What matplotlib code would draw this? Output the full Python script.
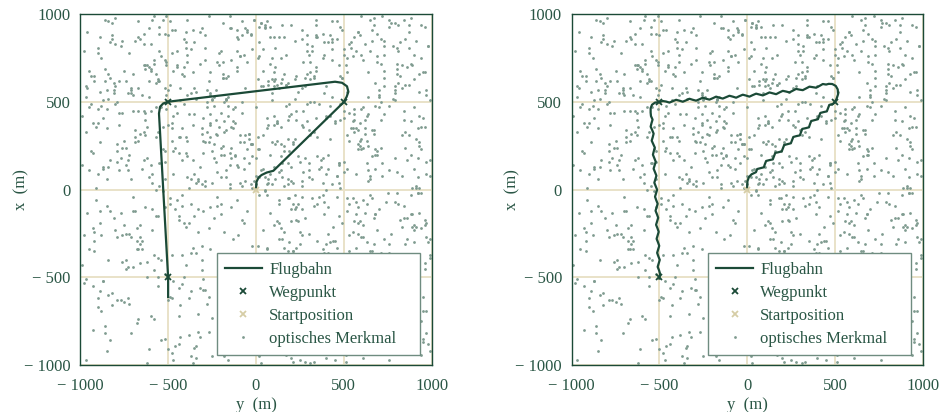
import numpy as np
import matplotlib
matplotlib.use("Agg")
import matplotlib.pyplot as plt
from matplotlib.lines import Line2D

plt.rcParams['font.family'] = ['Liberation Serif', 'DejaVu Serif']

# colours
c_dark = '#1b4a37'
c_text = '#2a5645'
c_grid = '#e9e2c8'
c_start = '#d6cda6'
c_feat = '#7f9b90'

# optical features (units of 10 m), horizontal (y) and vertical (x)
feat_y = [
    -87, 42, 13, -56, 91, -3, 67, -29, 8, -74, 35, 58, -95, 21, -40, 77, -12, 49, -66, 3,
    84, -31, 26, -9, 62, -81, 17, 95, -48, 39, -22, 71, -60, 5, 53, -17, 88, -36, 30, -92,
    11, 46, -70, 79, -5, -53, 24, 64, -27, 97, -84, 15, 40, -63, 82, -11, 56, -44, 0, 73,
    -38, 93, -19, 51, -78, 28, 6, -90, 68, -24, 37, -57, 87, -2, 19, -72, 44, 61, -34, 99,
    -14, 59, -83, 32, 75, -46, 2, -65, 23, 86, -7, 48, -99, 14, -52, 66, -28, 91, 9, -41,
    55, -75, 36, -15, 81, -58, 27, 70, -33, 1, 94, -88, 45, -20, 63, -4, 34, -69, 12, 78,
    -96, 20, 50, -43, 7, 89, -61, 16, -25, 74, -80, 41, -10, 57, -49, 85, 29, -1, -76, 65,
    38, -18, 92, -67, 4, 47, -86, 25, 60, -37, 83, -13, 10, -55, 72, -94, 33, -26, 54, 18,
    -62, 80, -8, 43, -89, 30, 67, -21, 96, -45, 13, -79, 52, 22, -35, 90, -64, 6, 76, -16,
    31, -98, 69, -30, 15, 58, -71, 42, -6, 85, -50, 26, 98, -42, 4, -85, 64, 37, -23, 48,
    -68, 8, 79, -54, 24, -12, 93, -77, 45, 17, -39, 70, -91, 33, 60, -8, 27, -59, 87, -32,
    2, 66, -44, 94, -19, 52, -84, 11, 39, -70, 82, -3, 47, -97, 21, 74, -28, 57, -11, 35,
    89, -51, 16, -36, 71, -93, 40, 5, -62, 28, 63, -15, 96, -73, 50, -40, 9, 83, -56, 23,
    -27, 44, -82, 61, 0, -47, 86, 19, -64, 36, -5, 78, -34, 13, -88, 55, 41, -20, 70, -99,
    47, -9, 32, -74, 99, -26, 58, 3, -53, 80, -16, 22, -67, 91, -41, 12, -80, 65, 26, -3,
    -57, 75, -22, 9, 84, -63, 30, 53, -87, 46, -31, 68, 1, -46, 92, -18, 38, -72, 16, 60,
    20, -40, 95, -13, 42, -90, 67, -60, 7, 79, -25, 33, 57, -82, 15, 86, -37, 48, -7, -65,
    73, -85, 11, 50, -29, 25, -4, 88, -48, 62, 18, -93, 40, 77, -55, 5, 64, -14, 31, -76,
    -33, 56, -69, 29, 70, -8, 45, -94, 81, -21, 8, 51, -58, 26, -2, 97, -43, 19, -84, 43,
    64, -12, 36, -79, 3, 90, -54, 21, -35, 59, -66, 85, -26, 43, 72, -17, 1, -50, 94, 28,
    -45, 17, -91, 66, 49, -30, 12, 78, -71, 34, 95, -9, 56, -38, -86, 23, 69, -60, 8, 41,
    82, -23, 54, -56, 15, 71, -97, 37, -14, 60, -42, 4, 89, -77, 27, -29, 52, 10, -68, 76,
    -6, 39, -74, 87, -34, 20, 63, -50, 92, -19, 44, -89, 7, 68, -52, 31, -10, 81, -39, 14,
    58, -81, 26, 6, -63, 48, -25, 96, -3, 35, -57, 73, 18, -92, 61, -46, 84, -28, 2, 50,
    -16, 90, -48, 24, 76, -70, 9, -37, 53, 13, 83, -61, 38, -20, 99, -83, 29, 65, -54, 6,
    36, -65, 2, 57, -43, 80, -11, 45, -96, 69, -32, 22, -78, 51, 14, -5, 73, -47, 93, -24,
    -79, 27, 61, -18, 93, -39, 35, -86, 18, 77, -2, 54, -64, 8, 46, -71, 88, -15, 33, -53,
    4, 72, -35, 41, -99, 14, 85, -22, 64, -49, 29, -12, 97, -58, 37, 20, -94, 58, -31, 81,
    -50, 11, 88, -68, 31, -7, 56, 23, -41, 95, -74, 47, -27, 70, -13, 62, -36, 4, 79, -88,
    45, -28, 17, 83, -52, 66, -80, 3, 28, -15, 59, -44, 10, 86, -67, 39, 1, -55, 24, 67,
    -73, 52, -4, 30, 69, -24, 98, -59, 42, -37, 16, 81, -90, 34, -8, 50, -62, 92, -21, 12,
    94, -36, 62, -87, 21, 7, -47, 74, -66, 55, 25, -17, 43, -53, 89, -31, 15, -79, 63, -42,
    -11, 78, -57, 48, -20, 37, 60, -93, 0, 85, -45, 30, -72, 67, 10, -38, 80, 26, -97, 54,
    67, -3, 23, -62, 90, -48, 12, 49, -29, 76, -84, 5, 61, -11, 36, 93, -59, 43, -26, 18,
    -30, 85, -76, 14, -39, 63, 28, -13, 87, -55, 41, -98, 20, 71, -32, 7, -69, 55, 38, -8,
    26, -52, 47, 97, -70, 3, -26, 58, 12, -82, 68, 32, -40, 90, -19, 45, 75, -64, 6, -44,
    -89, 34, -16, 62, 40, -95, 79, -6, 23, 53, -58, 15, -33, 82, -75, 29, -48, 11, 70, 96,
    51, -67, 9, -42, 17, 73, -34, 86, -80, 39, -1, 64, -23, 4, 57, -90, 35, 98, -17, 27,
    -58, 16, 96, -25, 55, -10, 42, -73, 69, -52, 88, -35, 27, -86, 48, 2, -29, 72, -66, 83,
    8, 61, -43, 79, -87, 32, 56, -18, 1, 92, -63, 19, 74, -5, -49, 66, -81, 23, 44, -35,
    77, -13, 40, -60, 26, -32, 91, -51, 67, 10, -92, 54, -7, 36, -79, 83, 13, -40, 59, -22,
    -41, 93, -27, 5, 64, -76, 15, 43, -18, 70, 31, -59, 88, -48, 20, -67, 53, -3, 85, -90,
    18, -46, 74, -84, 47, 11, -62, 99, -28, 38, -71, 6, 65, -30, 95, -14, 28, -56, -12, 71,
    -64, 29, -95, 54, 0, 83, -39, 24, 61, -9, 47, -77, 34, -42, 12, 78, -85, 40, 91, -27,
    39, -70, 10, 67, -25, -55, 88, -2, 33, -46, 76, 24, -93, 60, -21, 42, -8, 97, -51, 15,
    -20, 58, 81, -33, 44, 22, -83, 68, -44, 7, 94, -66, 50, 17, -10, -74, 31, 62, -38, 87,
    91, -7, -52, 35, -71, 63, 5, -90, 46, 80, -24, 12, -54, 73, 39, -16, 99, -31, 4, -78,
    -92, 46, 25, -89, 59, -15, 78, 36, -60, 19, -38, 86, 2, -69, 56, 93, -45, 21, -4, 68,
    13, -34, 70, 8, -57, 94, -41, 27, 84, -77, 55, -19, 41, 0, -85, 30, 66, -11, 46, -61,
    -47, 69, -20, 99, 34, -86, 52, -26, 16, 65, -1, -73, 29, 89, -52, 9, -37, 75, 57, -97,
    -71, 24, 53, -9, 87, -35, 16, -58, 79, 41, -83, 6, 62, -26, 97, -48, 30, -13, 70, -92,
    35, -63, 89, -42, 10, 58, -29, 76, -6, -80, 47, 21, -51, 84, -17, 64, -97, 39, 3, -55,
    -24, 81, -67, 14, 48, -11, 93, -76, 28, 5, -39, 69, -87, 55, -2, 33, -61, 90, -30, 17,
    92, -5, 26, -84, 61, -47, 38, 12, -70, 86, -21, -59, 44, 9, 75, -36, 51, -95, 22, -14,
    -52, 67, -31, 97, -18, 79, -65, 46, -41, 24, 58, -8, 82, -73, 36, -25, 13, 73, -49, 88,
    8, -89, 43, 28, -56, 15, -34, 64, 99, -62, 31, -45, 18, -20, 91, 53, -78, 1, 66, -3,
    -85, 37, 72, -20, 4, -93, 55, -14, 37, 71, -6, 88, -29, 47, -57, 80, -42, 26, -68, 59,
    45, -37, 11, 85, -74, 49, -8, 22, -51, 63, -90, 34, 75, -2, 20, -66, 94, -33, 52, -15,
    -9, 62, -48, 33, 96, -27, 70, -85, 6, -32, 80, -56, 14, 58, -43, 29, 61, -81, -18, 43,
    73, -22, 90, -61, 29, 7, -44, 51, -16, 98, -75, 19, -37, 86, 40, -9, -54, 67, 35, -98,
    -40, 14, -79, 56, -26, 93, 21, -67, 84, -2, 45, -23, 66, -88, 12, 71, -36, 5, 94, -61,
    26, 97, -12, 40, -87, 65, -52, 9, 30, -72, 57, 89, -17, 32, -64, 48, -4, 79, -44, 10,
    -60, 50, 18, -96, 73, -40, 84, -19, 59, 39, -33, 2, -82, 69, 25, -50, 87, 44, -26, -75,
    84, -31, 64, 3, -49, 27, -7, 95, -83, 16, 76, -47, 52, -11, -91, 38, 8, -63, 73, 21,
    -17, 78, -56, 68, 19, -82, 41, -30, 13, 52, -69, 96, 28, -39, 83, -13, 60, -89, 2, 49,
]
feat_x = [
    12, -77, 58, 33, -21, 89, -64, 5, 72, -40, -93, 26, 47, -8, 81, -55, 19, 64, -31, 95,
    -49, 3, 86, -70, 40, -16, 60, -87, 28, 77, -4, -59, 14, 92, -35, 52, -81, 37, 7, -24,
    70, -37, -12, 55, 23, 97, -84, 43, -61, 9, 66, -28, -96, 31, 84, -6, 46, -72, 18, 59,
    -83, 25, 64, -45, 11, -98, 35, 78, -14, 53, -67, 0, 90, -32, 42, 20, -54, 74, -89, 8,
    36, -90, 17, 82, -58, 48, -3, -29, 65, -76, 27, 93, -43, 61, -10, 85, -65, 2, 51, -19,
    -5, 68, -52, 21, 94, -37, 10, 57, -81, 30, -22, 75, -97, 44, 15, -60, 88, -12, 38, -46,
    90, -18, 45, -66, 4, 71, -91, 25, 52, -7, 83, -36, 13, -73, 60, 33, -50, 97, -26, 6,
    -62, 39, -2, 87, -47, 15, 62, -31, 99, -58, 8, 46, -20, 79, -85, 22, -9, 55, -70, 29,
    18, 81, -75, 3, 56, -25, 94, -53, 36, 70, -88, 16, -41, 63, -15, 47, 89, -34, 11, -97,
    50, -26, 73, -12, -79, 34, 6, 88, -44, 24, -63, 58, 82, -3, 31, -92, 67, -57, 40, 1,
    -34, 93, -60, 47, 19, -86, 56, -13, 38, -71, 77, -48, 1, 64, -27, 96, -80, 9, -39, 72,
    84, -5, 30, -94, 66, 12, -40, 81, -64, 45, -17, 26, 71, -51, 4, -75, 50, 35, 91, -29,
    -71, 54, 22, -33, 86, -55, 41, 7, -99, 59, -8, 92, -45, 17, 77, -21, 3, -87, 63, 45,
    27, -47, 95, -20, 8, 68, -28, 49, 17, -83, 73, -37, 56, -6, -69, 39, 84, -14, -58, 14,
    -15, 76, -39, 62, -92, 37, 90, -66, 23, -2, 48, 85, -74, 29, -50, 60, -23, 79, 2, -86,
    61, -59, 10, -82, 45, -10, 77, 28, -52, 96, -32, 12, 63, -89, 35, -43, 18, -65, 87, 23,
    -96, 21, 67, 39, -30, 81, -16, -72, 6, 51, -95, 33, -7, 88, -61, 70, -36, 49, -19, 54,
    43, -9, -68, 16, 74, -49, 29, 98, -37, -13, 61, -80, 42, -25, 93, 0, -56, 24, 67, -41,
    -24, 87, 34, -76, 53, 2, -43, 65, -88, 78, 20, -57, 99, -11, 26, -82, 58, -30, 13, 80,
    5, -64, 49, 26, -99, 63, 15, -35, 43, -18, 86, -70, 30, 53, -44, 11, 75, -91, 36, -53,
    79, -43, -6, 91, -19, 28, -73, 52, -27, 68, -85, 4, 40, -62, 97, -33, 20, 45, -79, 12,
    -52, 32, 84, -55, 7, 50, -97, 13, 74, -41, 35, 59, -14, 82, -74, 27, -5, 67, -22, 93,
    31, -80, 14, 60, -36, 94, -60, 37, -2, 25, -50, 87, -92, 48, 6, 73, -47, -8, 54, -67,
    -10, 57, -89, 3, 71, -65, 22, -20, 88, -77, 47, -28, 15, 65, -38, 91, -16, 33, -95, 41,
    65, -23, 38, -48, 97, -4, 55, 80, -58, 10, -67, 70, -34, 24, 51, -86, 39, 8, 76, -33,
    -87, 12, 76, -14, 30, -69, 87, -45, 58, -23, 90, -3, 62, -98, 19, -12, 82, -52, 27, 48,
    22, 73, -27, 50, -63, 19, -8, 69, -35, 95, 1, -77, 33, -44, 86, 57, -70, 14, -64, -1,
    -42, 8, 58, -91, 42, 75, -51, 31, 11, -61, 79, 38, -19, 74, -90, 5, 49, -37, 92, 61,
    88, -53, 20, -29, 63, -83, 33, -10, 70, 41, -45, 15, -81, 54, -28, 35, -99, 80, -7, -26,
    -29, 47, -94, 71, 16, -40, 98, 59, -70, 3, 28, -15, 87, -56, 45, -78, 23, 62, -45, 34,
    55, -12, 32, -61, 89, 26, -30, 4, 48, -95, 66, -54, 9, 97, -17, 80, -41, 18, 71, -84,
    -75, 91, -40, 13, -57, 60, 9, -85, 32, 76, -24, 51, -65, 36, 1, -46, 94, -27, 42, 17,
    14, -68, 66, 40, -8, -93, 46, 21, -49, 86, -6, 34, 78, -31, 59, -19, 10, -76, 53, -58,
    98, 26, -17, -50, 77, 35, -78, 64, 2, -31, 52, -89, 24, 68, -60, 42, -11, 86, -34, 6,
    -57, 60, 85, -22, 28, -72, 18, -47, 94, 15, -38, 79, -11, 40, -84, 62, 30, -53, 4, 88,
    37, -85, 4, 54, -44, 11, 67, -25, 39, -66, 20, -5, 90, -20, 73, -67, -2, 45, 96, -17,
    -19, 41, -55, 83, 0, -34, 57, 92, -83, 44, -74, 63, 5, -48, 28, 83, -62, 26, -11, 67,
    71, -34, 27, -9, 60, 85, -96, 17, 49, -14, 97, -41, 57, 12, -33, 46, 19, -88, 64, -49,
    -46, 2, 93, -73, 35, -26, 42, -62, 76, 58, -3, -90, 36, -78, 65, 7, -57, 99, -20, 31,
    9, -96, 51, 18, -52, 79, -18, 33, -40, 7, 69, 22, -59, 91, -8, -35, 55, 40, -72, 84,
    -64, 35, -31, 68, 91, -56, 1, 46, -92, 62, -29, 81, 18, -4, 50, -69, 87, -43, 25, -9,
    49, -78, 62, -1, 25, 44, -67, 84, 20, -49, 31, -23, 72, -93, 13, 96, -26, 3, -80, 38,
    -5, 24, -87, 96, -66, 6, 36, -39, 57, 89, -82, 41, -35, 21, -61, 18, 64, -15, 47, 72,
    83, -50, 11, 35, 47, -21, 73, -8, -78, 27, 14, -63, 94, -37, 38, -93, 6, 59, -45, -22,
    -36, 66, 42, -79, 4, 89, -46, 26, 65, -11, -97, 56, -22, 77, -52, 29, 44, -69, 99, 15,
    20, -19, 79, 6, -93, 52, -12, 61, -56, 37, 75, -42, 10, 48, 86, -25, -63, 32, 1, -74,
    -81, 77, -48, 30, 58, -30, 94, -67, 8, 72, -16, 28, -86, 64, -7, 53, 17, -40, 68, 44,
    62, -4, 16, -58, 38, 99, -42, 12, 83, -53, 43, -76, 23, 85, -47, 1, 71, -98, 32, -14,
    -28, 52, -72, 87, -15, 23, 65, -89, 40, 18, -60, 95, -10, 3, 57, -55, 34, 79, -33, 92,
    42, -91, 7, -37, 70, -82, 31, 54, -24, 97, 5, -44, 66, -71, 22, 75, -8, -51, 9, 59,
    55, -18, 83, -67, 31, 9, -44, 72, -90, 20, 64, -3, -58, 38, -27, 91, 15, -74, 47, -35,
    -92, 44, -21, 66, 13, -54, 88, -36, 5, 59, -80, 27, 71, -9, 52, -62, 33, 84, -47, 2,
    18, -71, 58, 36, -85, 70, -13, 24, -39, 93, 7, -66, 41, -24, 80, -98, 62, 12, -51, 77,
    -38, 90, -4, -60, 47, 22, 75, -83, 54, -16, 36, 97, -29, 63, -77, 17, -45, 68, 29, -10,
    74, -55, 32, 16, -95, 59, -34, 8, 86, -49, 23, -73, 65, 11, -42, 51, -19, -86, 96, 39,
    -13, 27, 96, -41, 62, -75, 4, 53, -28, 71, -99, 44, 3, -61, 85, -8, 37, -32, 19, -68,
    46, -84, 15, 79, -23, 38, -57, 92, 17, -36, 58, -14, 81, -92, 30, 66, -54, 5, -76, 88,
    -69, 6, 63, -31, 24, -89, 50, -11, 73, 28, -62, 87, -47, 19, 43, -27, 94, -71, 56, 1,
    31, -45, 78, 50, -17, 99, -76, 35, -52, 13, 69, -39, 26, 90, -84, 49, -6, 61, -24, 74,
    -57, 73, -30, 7, 88, -46, 21, -94, 42, 82, -20, -5, 55, -79, 9, 76, -40, 32, 87, -53,
    84, 11, -63, 43, -10, 66, -35, 28, 97, -70, 39, 16, -88, 48, -18, 24, 67, -58, -2, 53,
    -26, 57, 20, -77, 51, -3, 89, -56, 11, -25, 79, -67, 34, 6, 71, -43, 15, 95, -88, 37,
    69, -92, 40, -13, 77, 30, -48, 64, -37, 55, -11, 93, -59, 22, -97, 57, 81, -21, 43, -64,
    -48, 35, -82, 95, -5, 45, 12, -69, 84, -33, 48, -97, 75, -54, 36, -3, -73, 40, 68, 26,
    7, 82, -50, 23, -72, 86, -25, 41, -8, 67, 27, -42, -16, 97, 58, -87, 29, -12, -61, 91,
]

# waypoints and start (y, x) in m
wp_y = [-500, 500, -500]
wp_x = [500, 500, -500]
start_y = [0]
start_x = [0]

# flight path, left panel (y, x) in m
path1_y = [0, 3, 15, 32, 61, 99, 500, 516, 526, 518, 490, 450,
           -500, -528, -546, -552, -500, -500]
path1_x = [0, 45, 70, 84, 98, 108, 500, 530, 559, 590, 610, 616,
           502, 492, 473, 435, -500, -612]

# flight path, right panel (y, x) in m
path2_y = [0, 0, 2, 10, 25, 50, 57, 76, 95, 101, 108, 127, 146, 153, 160, 179,
           197, 204, 211, 230, 249, 256, 263, 281, 300, 307, 314, 333, 352,
           358, 365, 384, 403, 410, 417, 436, 454, 461, 468, 487, 500,
           510, 518, 516, 505, 485, 465,
           450, 431, 412, 393, 374, 355, 336, 317, 298, 279, 260, 241, 222,
           203, 184, 165, 146, 127, 108, 89, 70, 51, 32, 13, -6, -25, -44,
           -63, -82, -101, -120, -139, -158, -177, -196, -215, -234, -253,
           -272, -291, -310, -329, -348, -367, -386, -405, -424, -443, -462,
           -481, -500,
           -525, -542, -550, -550,
           -548, -539, -545, -550, -541, -533, -538, -544, -535, -526, -532,
           -537, -529, -521, -527, -533, -525, -517, -523, -529, -521, -513,
           -519, -525, -518, -510, -516, -522, -514, -507, -513, -519, -511,
           -504, -510, -516, -508, -501, -507, -513, -506, -498, -504, -510,
           -502, -496, -500, -500]
path2_x = [0, 25, 50, 72, 88, 100, 118, 123, 128, 146, 164, 169, 173, 191,
           210, 214, 219, 237, 255, 260, 265, 283, 301, 306, 310, 328, 347,
           351, 356, 374, 392, 397, 402, 420, 438, 443, 447, 465, 484, 488, 500,
           520, 545, 572, 592, 603, 604,
           600, 603, 592, 582, 585, 588, 578, 568, 571, 575, 565, 555, 560,
           564, 555, 545, 550, 555, 546, 538, 543, 548, 540, 531, 537, 542,
           534, 525, 531, 536, 528, 520, 525, 531, 522, 514, 519, 525, 516,
           508, 513, 519, 510, 502, 508, 513, 505, 497, 503, 506, 500,
           497, 485, 465, 440,
           420, 400, 380, 360, 340, 320, 300, 280, 260, 240, 220, 200, 180,
           160, 140, 120, 100, 80, 60, 40, 20, 0, -20, -40, -60, -80, -100,
           -120, -140, -160, -180, -200, -220, -240, -260, -280, -300, -320,
           -340, -360, -380, -400, -420, -440, -460, -480, -500, -507]

ticks = [-1000, -500, 0, 500, 1000]
tick_labels = ['\u2212 1000', '\u2212 500', '0', '500', '1000']

n_feat = min(len(feat_y), len(feat_x))
fy = np.array(feat_y[:n_feat]) * 10
fx = np.array(feat_x[:n_feat]) * 10

fig = plt.figure(figsize=(9.39, 4.12), dpi=100)
ax1 = fig.add_axes([0.0855, 0.114, 0.3742, 0.851])
ax2 = fig.add_axes([0.6088, 0.114, 0.3738, 0.851])

for ax, py, px in [(ax1, path1_y, path1_x), (ax2, path2_y, path2_x)]:
    ax.set_xlim(-1000, 1000)
    ax.set_ylim(-1000, 1000)
    ax.set_xticks(ticks)
    ax.set_xticklabels(tick_labels)
    ax.set_yticks(ticks)
    ax.set_yticklabels(tick_labels)
    ax.tick_params(length=0, labelsize=12, labelcolor=c_text)
    ax.tick_params(axis='x', pad=9)
    ax.tick_params(axis='y', pad=7)
    ax.grid(True, color=c_grid, lw=1.4, zorder=0)
    ax.set_axisbelow(True)
    for s in ax.spines.values():
        s.set_color(c_dark)
        s.set_linewidth(1.0)

    ax.scatter(fy, fx, s=4, color=c_feat, linewidths=0, zorder=2)
    ax.plot(py, px, color=c_dark, lw=1.6, zorder=3, solid_joinstyle='round')
    ax.plot(wp_y, wp_x, ls='none', marker='x', ms=5, mew=1.3, color=c_dark, zorder=4)
    ax.plot(start_y, start_x, ls='none', marker='x', ms=5, mew=1.3, color=c_start, zorder=4)

    ax.set_xlabel('y  (m)', fontsize=12, color=c_text)
    ax.set_ylabel('x  (m)', fontsize=12, color=c_text)
    ax.xaxis.set_label_coords(0.5, -0.092)
    ax.yaxis.set_label_coords(-0.145, 0.5)

    handles = [
        Line2D([], [], color=c_dark, lw=1.6),
        Line2D([], [], ls='none', marker='x', ms=5, mew=1.3, color=c_dark),
        Line2D([], [], ls='none', marker='x', ms=5, mew=1.3, color=c_start),
        Line2D([], [], ls='none', marker='o', ms=2, mew=0, color=c_feat),
    ]
    labels = ['Flugbahn', 'Wegpunkt', 'Startposition', 'optisches Merkmal']
    leg = ax.legend(handles, labels, loc='lower left', mode='expand',
                    bbox_to_anchor=(0.388, 0.0285, 0.579, 0.3),
                    fontsize=12, fancybox=False,
                    framealpha=1, edgecolor='#6f8c80', borderaxespad=0,
                    handlelength=2.2, handletextpad=0.45, labelspacing=0.42,
                    borderpad=0.5, labelcolor=c_text)
    leg.get_frame().set_linewidth(1.0)
    leg.set_zorder(5)

fig.savefig('out.png', dpi=100)
